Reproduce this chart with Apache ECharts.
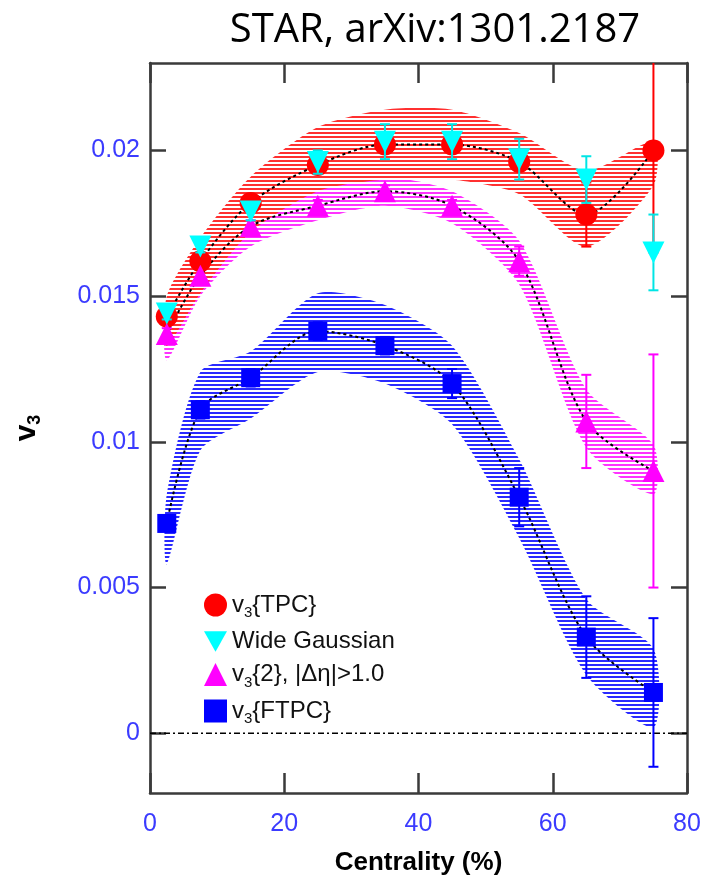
<!DOCTYPE html>
<html>
<head>
<meta charset="utf-8">
<script src="https://cdn.jsdelivr.net/npm/echarts@6/dist/echarts.min.js"></script>
<style>html,body{margin:0;padding:0;background:#fff}#c{width:717px;height:885px}</style>
</head>
<body>
<div id="c"></div>
<script>
// ---- data ----
const cent = [2.5, 7.5, 15, 25, 35, 45, 55, 65, 75];
const xTicks = [0, 20, 40, 60, 80];
const yTicks = [0, 0.005, 0.01, 0.015, 0.02];

const tpc      = [0.0143, 0.0162, 0.0182, 0.0195, 0.0202, 0.0202, 0.0196, 0.0178, 0.0200];
const tpcErr   = [0.0002, 0.0002, 0.0002, 0.0002, 0.0002, 0.0002, 0.0003, 0.0011, 0.0035];
const tpcLow   = [0.0133, 0.0151, 0.0172, 0.0186, 0.0190, 0.0190, 0.0185, 0.0167, 0.0188];
const tpcHigh  = [0.0150, 0.0170, 0.0191, 0.0208, 0.0214, 0.0214, 0.0206, 0.0193, 0.0203];

const wg       = [0.0144, 0.0167, 0.0179, 0.0196, 0.0203, 0.0203, 0.0197, 0.0190, 0.0165];
const wgErr    = [0.0002, 0.0002, 0.0003, 0.0004, 0.0006, 0.0006, 0.0007, 0.0008, 0.0013];

const v32      = [0.0137, 0.0157, 0.0174, 0.0181, 0.0186, 0.0181, 0.0162, 0.0107, 0.0090];
const v32Err   = [0.0002, 0.0002, 0.0002, 0.0002, 0.0002, 0.0002, 0.0005, 0.0016, 0.0040];
const v32Low   = [0.0128, 0.0150, 0.0167, 0.0176, 0.0181, 0.0175, 0.0154, 0.0098, 0.0082];
const v32High  = [0.0146, 0.0164, 0.0180, 0.0188, 0.0191, 0.0186, 0.0169, 0.0118, 0.0099];

const ftpc     = [0.0072, 0.0111, 0.0122, 0.0138, 0.0133, 0.0120, 0.0081, 0.0033, 0.0014];
const ftpcErr  = [0.0002, 0.0003, 0.0003, 0.0003, 0.0003, 0.0005, 0.0010, 0.0014, 0.00255];
const ftpcLow  = [0.0058, 0.0097, 0.0108, 0.0124, 0.0120, 0.0106, 0.0067, 0.0020, 0.0002];
const ftpcHigh = [0.0082, 0.0124, 0.0131, 0.0151, 0.0147, 0.0133, 0.0094, 0.0046, 0.0029];

const Y_MIN = -0.00205, Y_MAX = 0.0230;

function hatch(color) {
  const c = document.createElement('canvas');
  c.width = 8; c.height = 4;
  const g = c.getContext('2d');
  g.fillStyle = color;
  g.fillRect(0, 0, 8, 2);
  return { image: c, repeat: 'repeat' };
}
function pairs(vals) { return cent.map((c, i) => [c, vals[i]]); }

function band(lo, hi, color, z) {
  const pat = hatch(color);
  return {
    type: 'custom', z: z, silent: true, clip: true,
    data: [[cent[0], lo[0]]], encode: { x: 0, y: 1 },
    renderItem: function (params, api) {
      const top = cent.map((c, i) => api.coord([c, hi[i]]));
      const bot = cent.map((c, i) => api.coord([c, lo[i]])).reverse();
      return { type: 'polygon', shape: { points: top.concat(bot), smooth: 0.25 },
        style: { fill: pat } };
    }
  };
}
function curve(vals, z) {
  return { type: 'line', data: pairs(vals), symbol: 'none', smooth: 0.3, silent: true, z: z,
    lineStyle: { color: '#000', width: 2, type: [3, 3] } };
}
function errBars(vals, errs, color, z) {
  return {
    type: 'custom', z: z, silent: true,
    data: cent.map((c, i) => [c, vals[i], errs[i]]),
    encode: { x: 0, y: 1 },
    renderItem: function (params, api) {
      const x = api.value(0), y = api.value(1), e = api.value(2);
      const hi = Math.min(y + e, Y_MAX), lo = Math.max(y - e, Y_MIN);
      const p1 = api.coord([x, hi]), p2 = api.coord([x, lo]);
      const st = { stroke: color, lineWidth: 2 };
      const ch = [{ type: 'line', shape: { x1: p1[0], y1: p1[1], x2: p2[0], y2: p2[1] }, style: st }];
      if (y + e <= Y_MAX) ch.push({ type: 'line', shape: { x1: p1[0] - 5, y1: p1[1], x2: p1[0] + 5, y2: p1[1] }, style: st });
      if (y - e >= Y_MIN) ch.push({ type: 'line', shape: { x1: p2[0] - 5, y1: p2[1], x2: p2[0] + 5, y2: p2[1] }, style: st });
      return { type: 'group', children: ch };
    }
  };
}
function pts(name, vals, symbol, size, color, z) {
  return { type: 'scatter', name: name, data: pairs(vals), symbol: symbol, symbolSize: size,
    itemStyle: { color: color, opacity: 1 }, z: z };
}

const INV_TRI = 'path://M0,0 L10,0 L5,9 Z';
const names = ['v3{TPC}', 'Wide Gaussian', 'v3{2}, |Δη|>1.0', 'v3{FTPC}'];
const labelMap = {
  'v3{TPC}': 'v{s|3}{TPC}',
  'Wide Gaussian': 'Wide Gaussian',
  'v3{2}, |Δη|>1.0': 'v{s|3}{2}, |Δη|>1.0',
  'v3{FTPC}': 'v{s|3}{FTPC}'
};

const axisLineStyle = { color: '#3a3a3a', width: 2.5 };
const tickStyle = { color: '#3a3a3a', width: 2.5 };

const chart = echarts.init(document.getElementById('c'));
chart.setOption({
  animation: false,
  backgroundColor: '#fff',
  title: {
    text: 'STAR, arXiv:1301.2187', left: 430, top: 6, textAlign: 'center',
    textStyle: { fontFamily: 'Open Sans', fontWeight: 'normal', fontSize: 40, color: '#000' }
  },
  grid: { left: 150, right: 30, top: 63, bottom: 92, containLabel: false },
  legend: {
    data: names, orient: 'vertical', left: 199, top: 588, itemGap: 9,
    itemWidth: 23, itemHeight: 23, selectedMode: false,
    formatter: n => labelMap[n],
    textStyle: { fontFamily: 'Liberation Sans', fontSize: 24, color: '#111',
      rich: { s: { fontFamily: 'Liberation Sans', fontSize: 15, color: '#111', padding: [16, 0, 0, 0] } } }
  },
  xAxis: [
    { type: 'value', min: 0, max: 80, interval: 20, position: 'bottom',
      axisLine: { show: true, onZero: false, lineStyle: axisLineStyle },
      axisTick: { show: true, inside: true, length: 20, lineStyle: tickStyle },
      axisLabel: { color: '#3b3bff', fontFamily: 'Liberation Sans', fontSize: 25, margin: 19 },
      splitLine: { show: false },
      name: 'Centrality (%)', nameLocation: 'middle', nameGap: 57,
      nameTextStyle: { fontFamily: 'Liberation Sans', fontWeight: 'bold', fontSize: 26, color: '#000' } },
    { type: 'value', min: 0, max: 80, interval: 20, position: 'top',
      axisLine: { show: true, onZero: false, lineStyle: axisLineStyle },
      axisTick: { show: true, inside: true, length: 20, lineStyle: tickStyle },
      axisLabel: { show: false }, splitLine: { show: false } }
  ],
  yAxis: [
    { type: 'value', min: Y_MIN, max: Y_MAX, position: 'left',
      axisLine: { show: true, onZero: false, lineStyle: axisLineStyle },
      axisTick: { show: true, inside: true, length: 16, lineStyle: tickStyle, customValues: yTicks },
      axisLabel: { color: '#3b3bff', fontFamily: 'Liberation Sans', fontSize: 25, margin: 10,
        customValues: yTicks, formatter: v => (Math.abs(v) < 1e-12 ? '0' : String(+v.toFixed(4))) },
      splitLine: { show: false },
      name: '{b|v}{s|3}', nameLocation: 'middle', nameGap: 106, nameRotate: 90,
      nameTextStyle: { rich: {
        b: { fontFamily: 'Liberation Sans', fontWeight: 'bold', fontSize: 30, color: '#000' },
        s: { fontFamily: 'Liberation Sans', fontWeight: 'bold', fontSize: 18, color: '#000', padding: [16, 0, 0, 0] } } } },
    { type: 'value', min: Y_MIN, max: Y_MAX, position: 'right',
      axisLine: { show: true, onZero: false, lineStyle: axisLineStyle },
      axisTick: { show: true, inside: true, length: 16, lineStyle: tickStyle, customValues: yTicks },
      axisLabel: { show: false }, splitLine: { show: false } }
  ],
  series: [
    band(ftpcLow, ftpcHigh, '#2a2aff', 1),
    band(v32Low, v32High, '#ff33ff', 2),
    band(tpcLow, tpcHigh, '#ff3030', 3),
    { type: 'line', data: [[0, 0], [80, 0]], symbol: 'none', silent: true, z: 4,
      lineStyle: { color: '#000', width: 1.5, type: [6, 3, 2, 3] } },
    curve(ftpc, 5), curve(v32, 5), curve(tpc, 5),
    errBars(tpc, tpcErr, '#ff0000', 6),
    errBars(v32, v32Err, '#ff00ff', 6),
    errBars(ftpc, ftpcErr, '#0000ff', 6),
    errBars(wg, wgErr, '#00e5e5', 9),
    pts('v3{TPC}', tpc, 'circle', 22, '#ff0000', 7),
    pts('v3{2}, |Δη|>1.0', v32, 'triangle', 22, '#ff00ff', 8),
    pts('v3{FTPC}', ftpc, 'rect', 19, '#0000ff', 8),
    pts('Wide Gaussian', wg, INV_TRI, 22, '#00ffff', 10)
  ]
});
</script>
</body>
</html>
